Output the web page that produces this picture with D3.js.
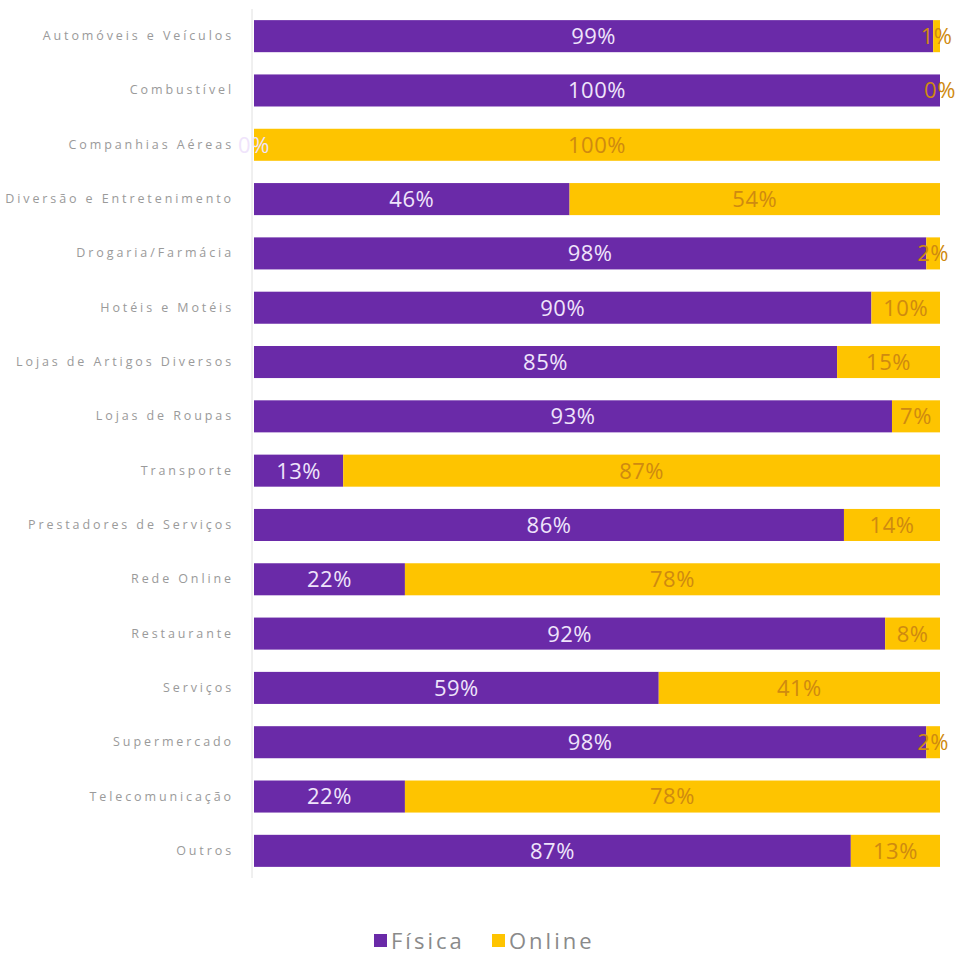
<!DOCTYPE html>
<html><head><meta charset="utf-8">
<script src="https://cdn.jsdelivr.net/npm/d3@7"></script>
<style>body{margin:0;background:#fff}</style>
</head><body>
<svg id="chart" width="964" height="958"></svg>
<script>
const categories = ["Automóveis e Veículos","Combustível","Companhias Aéreas","Diversão e Entretenimento","Drogaria/Farmácia","Hotéis e Motéis","Lojas de Artigos Diversos","Lojas de Roupas","Transporte","Prestadores de Serviços","Rede Online","Restaurante","Serviços","Supermercado","Telecomunicação","Outros"];
const fisica = [99,100,0,46,98,90,85,93,13,86,22,92,59,98,22,87];
const online = [1,0,100,54,2,10,15,7,87,14,78,8,41,2,78,13];
const seriesNames = ["Física","Online"];

const colors = {"Física":"#6a2aa8","Online":"#fec400"};
const labelColors = {"Física":"#efe4fb","Online":"#cf8a10"};

const svg = d3.select("#chart");
const mLeft = 254, mRight = 940, mTop = 9, mBottom = 878;

const x = d3.scaleLinear().domain([0,100]).range([mLeft,mRight]);
const y = d3.scaleBand().domain(categories).range([mTop,mBottom]).paddingInner(0.41).paddingOuter(0.205);

const rows = categories.map((c,i)=>({cat:c,"Física":fisica[i],"Online":online[i]}));
const stack = d3.stack().keys(seriesNames)(rows);

// axis line
svg.append("line").attr("x1",mLeft-2).attr("x2",mLeft-2).attr("y1",mTop).attr("y2",mBottom)
  .attr("stroke","#e0e0e0").attr("stroke-width",1);

const g = svg.append("g");
stack.forEach(s=>{
  const key = s.key;
  g.selectAll(null).data(s).enter().append("rect")
    .attr("x",d=>x(d[0])).attr("width",d=>x(d[1])-x(d[0]))
    .attr("y",d=>y(d.data.cat)).attr("height",y.bandwidth())
    .attr("fill",colors[key]);
});
stack.forEach(s=>{
  const key = s.key;
  g.selectAll(null).data(s).enter().append("text")
    .attr("x",d=>(x(d[0])+x(d[1]))/2)
    .attr("y",d=>y(d.data.cat)+y.bandwidth()/2)
    .attr("dy","0.36em")
    .attr("text-anchor","middle")
    .attr("font-family","Open Sans, sans-serif")
    .attr("font-size",22)
    .attr("letter-spacing","0.5")
    .attr("fill",labelColors[key])
    .text(d=>(d[1]-d[0])+"%");
});

// category labels
const yAxis = d3.axisLeft(y).tickSize(0).tickPadding(0);
const ax = svg.append("g").attr("transform",`translate(${mLeft-20},0)`).call(yAxis);
ax.select(".domain").remove();
ax.selectAll("text").attr("font-family","Open Sans, sans-serif").attr("font-size",12.5)
  .attr("fill","#9a9a9a").attr("letter-spacing","2.9");

// legend
const legend = svg.append("g").attr("transform","translate(0,941)");
const legItems = [{name:"Física",x:374},{name:"Online",x:492}];
legItems.forEach(it=>{
  legend.append("rect").attr("x",it.x).attr("y",-7).attr("width",13).attr("height",13).attr("fill",colors[it.name]);
  legend.append("text").attr("x",it.x+17).attr("y",0).attr("dy","0.36em")
    .attr("font-family","Open Sans, sans-serif").attr("font-size",22).attr("fill","#8a8a8a")
    .attr("letter-spacing","3")
    .text(it.name);
});
</script>
</body></html>
